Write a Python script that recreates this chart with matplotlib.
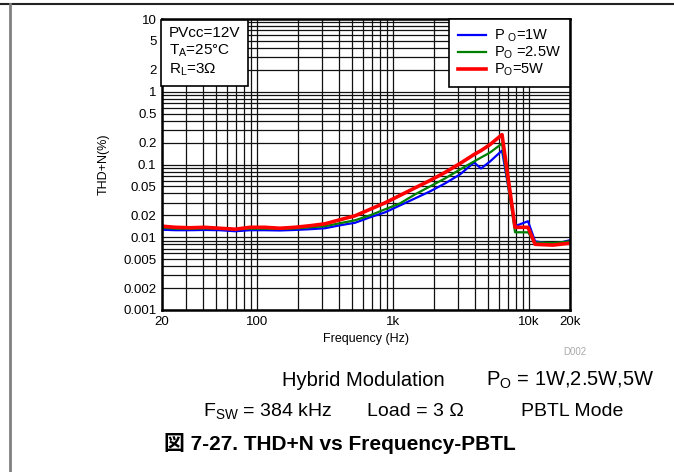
import matplotlib.pyplot as plt
from matplotlib.ticker import FixedLocator, FixedFormatter, LogLocator, NullFormatter

# frequency points (Hz)
freq = [20, 25, 32, 41, 53, 69, 89, 114, 147, 190, 245, 316, 407, 525, 677,
        873, 1125, 1450, 1870, 2410, 3105, 3937, 4435, 5165, 6325, 7890,
        9820, 11070, 15000, 20000]

# THD+N (%)
thd_1w = [0.0127, 0.0125, 0.0125, 0.0126, 0.0125, 0.0121, 0.0125, 0.0125,
          0.0124, 0.0126, 0.0129, 0.0133, 0.0146, 0.0158, 0.0188, 0.0220,
          0.0274, 0.0342, 0.0427, 0.0549, 0.0730, 0.1065, 0.0881, 0.1100,
          0.1555, 0.0142, 0.0166, 0.0088, 0.0080, 0.0091]
thd_25w = [0.0135, 0.0131, 0.0131, 0.0132, 0.0131, 0.0129, 0.0131, 0.0131,
           0.0130, 0.0132, 0.0137, 0.0142, 0.0156, 0.0171, 0.0200, 0.0242,
           0.0292, 0.0388, 0.0500, 0.0643, 0.0854, 0.1100, 0.1247, 0.1460,
           0.1940, 0.0117, 0.0117, 0.0085, 0.0083, 0.0088]
thd_5w = [0.0142, 0.0137, 0.0135, 0.0137, 0.0133, 0.0129, 0.0137, 0.0137,
          0.0133, 0.0137, 0.0144, 0.0153, 0.0174, 0.0197, 0.0242, 0.0297,
          0.0376, 0.0477, 0.0604, 0.0777, 0.1032, 0.1370, 0.1555, 0.1880,
          0.2576, 0.0137, 0.0137, 0.0080, 0.0078, 0.0083]

xticks = [20, 100, 1000, 10000, 20000]
xlabels = ['20', '100', '1k', '10k', '20k']
yticks = [0.001, 0.002, 0.005, 0.01, 0.02, 0.05, 0.1, 0.2, 0.5, 1, 2, 5, 10]
ylabels = ['0.001', '0.002', '0.005', '0.01', '0.02', '0.05', '0.1', '0.2',
           '0.5', '1', '2', '5', '10']

plt.rcParams['font.family'] = ['Liberation Sans', 'Noto Sans CJK JP', 'DejaVu Sans']
plt.rcParams['mathtext.fontset'] = 'custom'
plt.rcParams['mathtext.rm'] = 'Liberation Sans'
plt.rcParams['mathtext.it'] = 'Liberation Sans'


def main():
    fig = plt.figure(figsize=(6.74, 4.72), dpi=100)
    ax = fig.add_axes([162 / 674, 1 - 310 / 472, 408 / 674, 291 / 472])

    ax.plot(freq, thd_1w, color='#0000ff', lw=1.6, label='P $_\\mathregular{O}$=1W', zorder=3)
    ax.plot(freq, thd_25w, color='#008000', lw=1.6, label='P$_\\mathregular{O}$ =2.5W', zorder=4)
    ax.plot(freq, thd_5w, color='#ff0000', lw=2.6, label='P$_\\mathregular{O}$=5W', zorder=5)

    ax.set_xscale('log')
    ax.set_yscale('log')
    ax.set_xlim(20, 20000)
    ax.set_ylim(0.001, 10)

    ax.xaxis.set_major_locator(FixedLocator(xticks))
    ax.xaxis.set_major_formatter(FixedFormatter(xlabels))
    ax.xaxis.set_minor_locator(LogLocator(base=10, subs=range(2, 10), numticks=20))
    ax.xaxis.set_minor_formatter(NullFormatter())
    ax.yaxis.set_major_locator(FixedLocator(yticks))
    ax.yaxis.set_major_formatter(FixedFormatter(ylabels))
    ax.yaxis.set_minor_locator(LogLocator(base=10, subs=range(2, 10), numticks=20))
    ax.yaxis.set_minor_formatter(NullFormatter())

    ax.grid(which='both', color='#111111', lw=0.9)
    ax.tick_params(which='both', length=0, labelsize=9.5, pad=4)
    for s in ax.spines.values():
        s.set_linewidth(1.8)
        s.set_zorder(6)

    ax.set_xlabel('Frequency (Hz)', fontsize=9, labelpad=4)
    ax.set_ylabel('THD+N(%)', fontsize=9, labelpad=10)

    leg = ax.legend(loc='upper right', fontsize=10.5, frameon=True, fancybox=False,
                    edgecolor='black', framealpha=1, borderaxespad=0,
                    handlelength=1.9, handletextpad=0.6, labelspacing=0.05,
                    borderpad=0.6)
    leg.get_frame().set_linewidth(1.2)
    leg.set_zorder(7)

    ax.text(0.017, 0.975, 'PVcc=12V\nT$_\\mathregular{A}$=25°C\nR$_\\mathregular{L}$=3Ω',
            transform=ax.transAxes, fontsize=11, va='top', ha='left',
            linespacing=1.2, zorder=7,
            bbox=dict(boxstyle='square,pad=0.5', fc='white', ec='black', lw=1.2))

    fig.text(575 / 674, 1 - 352 / 472, 'D002', fontsize=7, color='#aaaaaa',
             ha='center', va='center')

    fig.text(282 / 674, 1 - 380 / 472, 'Hybrid Modulation', fontsize=14.5,
             ha='left', va='center')
    fig.text(655 / 674, 1 - 380 / 472, 'P$_\\mathregular{O}$ = 1W,2.5W,5W', fontsize=14.5,
             ha='right', va='center')
    fig.text(203 / 674, 1 - 411 / 472, 'F$_\\mathregular{SW}$ = 384 kHz', fontsize=14,
             ha='left', va='center')
    fig.text(367 / 674, 1 - 411 / 472, 'Load = 3 Ω', fontsize=14, ha='left', va='center')
    fig.text(623 / 674, 1 - 411 / 472, 'PBTL Mode', fontsize=14, ha='right', va='center')
    fig.text(340 / 674, 1 - 443 / 472, '図 7-27. THD+N vs Frequency-PBTL', fontsize=15,
             fontweight='bold', ha='center', va='center')

    # page border lines
    fig.add_artist(plt.Line2D([0, 1], [1 - 3.5 / 472] * 2, color='#222222', lw=1.5,
                              transform=fig.transFigure))
    fig.add_artist(plt.Line2D([10 / 674] * 2, [0, 1 - 3.5 / 472], color='#808080', lw=2,
                              transform=fig.transFigure))

    fig.savefig('out.png', dpi=100)


if __name__ == '__main__':
    main()
